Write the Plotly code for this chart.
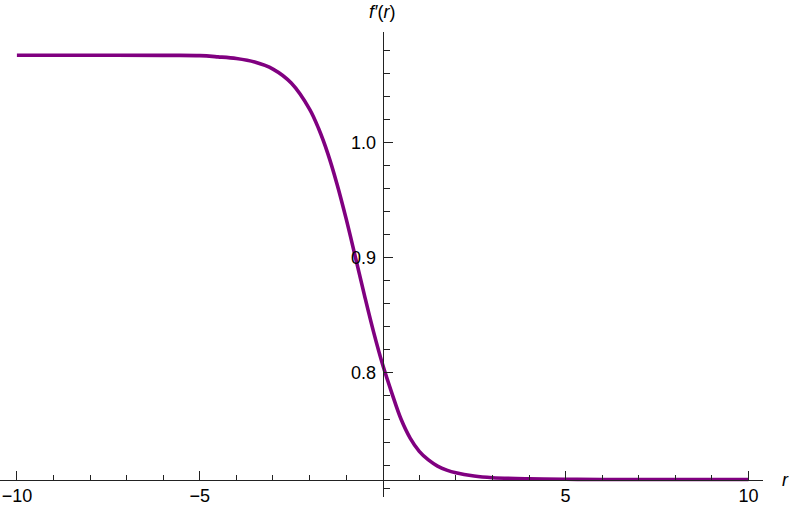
import plotly.graph_objects as go

# Data
r_vals = [-10, -8, -6, -5, -4.5, -4, -3.5, -3, -2.5, -2, -1.75, -1.5, -1.25, -1,
          -0.75, -0.5, -0.25, 0, 0.25, 0.5, 0.75, 1, 1.25, 1.5, 1.75, 2, 2.5, 3, 4, 5, 6, 8, 10]
fprime_vals = [1.0755, 1.0755, 1.0754, 1.0752, 1.0741, 1.0726, 1.0696, 1.0635, 1.0514, 1.0288,
               1.0117, 0.9902, 0.9639, 0.9338, 0.9009, 0.8675, 0.8356, 0.8070, 0.7825, 0.7600,
               0.7435, 0.7320, 0.7245, 0.7192, 0.7157, 0.7133, 0.7105, 0.7091, 0.7081, 0.7077,
               0.7076, 0.7075, 0.7075]

x_major = [-10, -5, 5, 10]
x_major_text = ["\u221210", "\u22125", "5", "10"]
x_minor = [-9, -8, -7, -6, -4, -3, -2, -1, 1, 2, 3, 4, 6, 7, 8, 9]
y_major = [0.8, 0.9, 1.0]
y_major_text = ["0.8", "0.9", "1.0"]
y_minor = [0.70, 0.72, 0.74, 0.76, 0.78, 0.82, 0.84, 0.86, 0.88, 0.92, 0.94, 0.96, 0.98,
           1.02, 1.04, 1.06, 1.08]

W, H = 790, 505
axis_color = "#222222"
font_family = "Liberation Sans, Arial, sans-serif"

fig = go.Figure()
fig.add_trace(go.Scatter(x=r_vals, y=fprime_vals, mode="lines",
                         line=dict(color="#800080", width=3.6, shape="spline", smoothing=1.0),
                         hoverinfo="skip"))

# pixel geometry
x0_px = 382.7
px_per_unit = 36.58
xaxis_py = 480.0
v_ref, v_ref_py, px_per_v = 1.0, 142.3, 1153.0
y_top_py, y_bot_py = 32.0, 497.0
x_right_px = 763.0

x_range = [(0 - x0_px) / px_per_unit, (x_right_px - x0_px) / px_per_unit]
y_range = [v_ref - (y_bot_py - v_ref_py) / px_per_v, v_ref + (v_ref_py - y_top_py) / px_per_v]

fig.update_layout(
    width=W, height=H,
    margin=dict(l=0, r=0, t=0, b=0, autoexpand=False),
    plot_bgcolor="white", paper_bgcolor="white",
    showlegend=False,
    font=dict(family=font_family, size=18, color="#000000"),
    xaxis=dict(
        domain=[0, x_right_px / W], range=x_range, automargin=False,
        anchor="free", position=(H - xaxis_py) / H,
        showgrid=False, zeroline=False,
        showline=True, linecolor=axis_color, linewidth=1,
        ticks="inside", ticklen=9, tickwidth=1, tickcolor=axis_color,
        tickmode="array", tickvals=x_major, ticktext=x_major_text,
        tickfont=dict(family=font_family, size=18, color="#000000"),
        ticklabelstandoff=-1,
        minor=dict(tickmode="array", tickvals=x_minor, ticks="inside", ticklen=5,
                   tickwidth=1, tickcolor=axis_color, showgrid=False),
    ),
    yaxis=dict(
        domain=[(H - y_bot_py) / H, (H - y_top_py) / H], range=y_range, automargin=False,
        anchor="free", position=x0_px / W, side="left",
        showgrid=False, zeroline=False,
        showline=True, linecolor=axis_color, linewidth=1,
        ticks="inside", ticklen=9, tickwidth=1, tickcolor=axis_color,
        tickmode="array", tickvals=y_major, ticktext=y_major_text,
        tickfont=dict(family=font_family, size=18, color="#000000"),
        ticklabelstandoff=3,
        minor=dict(tickmode="array", tickvals=y_minor, ticks="inside", ticklen=6,
                   tickwidth=1, tickcolor=axis_color, showgrid=False),
    ),
    annotations=[
        dict(text="<i>r</i>", xref="paper", yref="paper", x=785 / W, y=(H - 480) / H,
             xanchor="center", yanchor="middle", showarrow=False,
             font=dict(family=font_family, size=18, color="#000000")),
        dict(text="<i>f\u2032</i>(<i>r</i>)", xref="paper", yref="paper", x=381.7 / W, y=(H - 12) / H,
             xanchor="center", yanchor="middle", showarrow=False,
             font=dict(family=font_family, size=18, color="#000000")),
    ],
)

fig.write_html("out.html", config={"displayModeBar": False},
               post_script="document.body.style.margin='0';document.body.style.padding='0';")
